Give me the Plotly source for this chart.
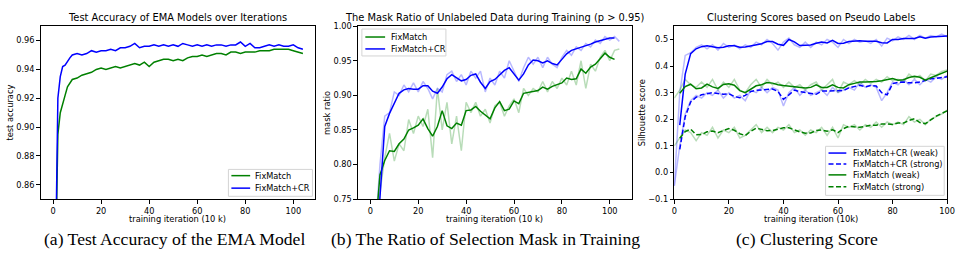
import plotly.graph_objects as go

W, H = 969, 259

# ---------------- Panel (a): test accuracy ----------------
a_x = [1, 2, 3, 4, 5, 6, 7, 8] + list(range(10, 105, 2))
a_cr = [0.80, 0.920, 0.935, 0.942, 0.943, 0.946, 0.948, 0.950,
        0.951, 0.950, 0.951, 0.953, 0.952, 0.953, 0.953, 0.954, 0.953, 0.955,
        0.955, 0.956, 0.958, 0.955, 0.956, 0.956, 0.957, 0.956, 0.957, 0.956,
        0.957, 0.956, 0.958, 0.957, 0.956, 0.957, 0.956, 0.957, 0.956, 0.957,
        0.957, 0.956, 0.957, 0.957, 0.959, 0.956, 0.958, 0.955, 0.955, 0.956,
        0.957, 0.956, 0.957, 0.956, 0.956, 0.957, 0.955, 0.954]
a_fm = [0.80, 0.895, 0.910, 0.917, 0.922, 0.928, 0.931, 0.933,
        0.934, 0.936, 0.937, 0.938, 0.940, 0.941, 0.940, 0.941, 0.942, 0.941,
        0.942, 0.943, 0.944, 0.943, 0.945, 0.942, 0.945, 0.946, 0.947, 0.947,
        0.946, 0.947, 0.946, 0.948, 0.949, 0.949, 0.950, 0.949, 0.950, 0.951,
        0.951, 0.950, 0.952, 0.952, 0.951, 0.952, 0.952, 0.952, 0.953, 0.953,
        0.953, 0.954, 0.954, 0.954, 0.954, 0.953, 0.952, 0.951]

# ---------------- Panel (b): mask ratio ----------------
b_raw_x = list(range(2, 105, 2))
b_cr_raw = [0.70, 0.80, 0.87, 0.875, 0.905, 0.90, 0.915, 0.905, 0.918, 0.905,
            0.92, 0.91, 0.895, 0.91, 0.905, 0.93, 0.935, 0.92, 0.93, 0.915,
            0.935, 0.925, 0.935, 0.905, 0.925, 0.915, 0.935, 0.925, 0.95, 0.935,
            0.92, 0.94, 0.955, 0.945, 0.955, 0.94, 0.955, 0.945, 0.94, 0.955,
            0.965, 0.958, 0.97, 0.965, 0.975, 0.97, 0.98, 0.975, 0.985, 0.98,
            0.985, 0.978]
b_fm_raw = [0.70, 0.76, 0.81, 0.845, 0.805, 0.83, 0.82, 0.865, 0.845, 0.87,
            0.855, 0.88, 0.81, 0.91, 0.85, 0.89, 0.83, 0.87, 0.82, 0.89,
            0.875, 0.89, 0.87, 0.88, 0.86, 0.885, 0.89, 0.87, 0.885, 0.895,
            0.875, 0.91, 0.90, 0.91, 0.905, 0.92, 0.905, 0.92, 0.91, 0.925,
            0.915, 0.935, 0.915, 0.95, 0.91, 0.945, 0.935, 0.955, 0.965, 0.95,
            0.965, 0.967]
b_sm_x = list(range(2, 103, 2))
b_cr_sm = [0.65, 0.76, 0.855, 0.874, 0.888, 0.903, 0.908, 0.910, 0.909, 0.909,
           0.914, 0.914, 0.906, 0.903, 0.912, 0.924, 0.930, 0.925, 0.921, 0.923,
           0.929, 0.931, 0.919, 0.910, 0.920, 0.923, 0.929, 0.936, 0.940, 0.931,
           0.922, 0.931, 0.944, 0.951, 0.950, 0.947, 0.950, 0.946, 0.944, 0.952,
           0.960, 0.965, 0.967, 0.969, 0.972, 0.974, 0.977, 0.979, 0.982, 0.983,
           0.983]
b_fm_sm = [0.70, 0.785, 0.806, 0.820, 0.819, 0.830, 0.837, 0.850, 0.853, 0.857,
           0.866, 0.852, 0.841, 0.855, 0.878, 0.856, 0.852, 0.860, 0.857, 0.878,
           0.879, 0.884, 0.877, 0.871, 0.866, 0.882, 0.891, 0.878, 0.880, 0.892,
           0.888, 0.903, 0.904, 0.905, 0.907, 0.912, 0.909, 0.913, 0.916, 0.918,
           0.925, 0.923, 0.924, 0.938, 0.932, 0.941, 0.945, 0.953, 0.961, 0.955,
           0.952]

# ---------------- Panel (c): silhouette score ----------------
c_raw_x = list(range(0, 101, 2))
c_crw_raw = [-0.05, 0.30, 0.44, 0.45, 0.47, 0.48, 0.465, 0.48, 0.46, 0.485,
             0.47, 0.48, 0.465, 0.48, 0.47, 0.49, 0.48, 0.50, 0.485, 0.46,
             0.49, 0.505, 0.48, 0.47, 0.49, 0.47, 0.49, 0.48, 0.50, 0.49,
             0.47, 0.50, 0.485, 0.50, 0.49, 0.495, 0.485, 0.50, 0.475, 0.505,
             0.495, 0.51, 0.50, 0.515, 0.50, 0.515, 0.505, 0.515, 0.51, 0.52,
             0.51]
c_crs_raw = [-0.05, 0.10, 0.22, 0.27, 0.29, 0.28, 0.30, 0.29, 0.31, 0.28,
             0.30, 0.28, 0.29, 0.27, 0.31, 0.30, 0.32, 0.30, 0.32, 0.31,
             0.25, 0.30, 0.32, 0.29, 0.31, 0.29, 0.30, 0.31, 0.29, 0.32,
             0.30, 0.31, 0.32, 0.31, 0.34, 0.32, 0.33, 0.32, 0.27, 0.30,
             0.34, 0.33, 0.35, 0.33, 0.35, 0.33, 0.35, 0.34, 0.36, 0.35,
             0.365]
c_fmw_raw = [0.28, 0.31, 0.35, 0.33, 0.32, 0.34, 0.32, 0.35, 0.31, 0.34,
             0.32, 0.35, 0.31, 0.30, 0.33, 0.35, 0.32, 0.35, 0.33, 0.34,
             0.32, 0.34, 0.32, 0.33, 0.31, 0.33, 0.34, 0.31, 0.33, 0.35,
             0.30, 0.34, 0.33, 0.345, 0.33, 0.35, 0.335, 0.35, 0.34, 0.36,
             0.345, 0.35, 0.34, 0.37, 0.355, 0.365, 0.345, 0.37, 0.365, 0.38,
             0.385]
c_fms_raw = [0.10, 0.13, 0.16, 0.15, 0.12, 0.15, 0.14, 0.17, 0.13, 0.16,
             0.15, 0.17, 0.13, 0.14, 0.16, 0.18, 0.15, 0.17, 0.15, 0.17,
             0.16, 0.18, 0.15, 0.16, 0.14, 0.16, 0.15, 0.17, 0.14, 0.17,
             0.13, 0.18, 0.17, 0.18, 0.16, 0.18, 0.17, 0.19, 0.17, 0.19,
             0.18, 0.19, 0.18, 0.21, 0.19, 0.20, 0.18, 0.20, 0.21, 0.22,
             0.235]
c_sm_x = list(range(2, 101, 2))
c_crw_sm = [0.178, 0.37, 0.447, 0.465, 0.473, 0.476, 0.473, 0.469, 0.471, 0.476,
            0.476, 0.471, 0.472, 0.476, 0.480, 0.484, 0.492, 0.492, 0.482, 0.478,
            0.500, 0.491, 0.477, 0.478, 0.479, 0.486, 0.490, 0.487, 0.497, 0.485,
            0.486, 0.492, 0.493, 0.495, 0.493, 0.494, 0.493, 0.488, 0.487, 0.500,
            0.500, 0.504, 0.503, 0.504, 0.510, 0.505, 0.509, 0.511, 0.512, 0.513]
c_crs_sm = [0.087, 0.21, 0.265, 0.283, 0.292, 0.297, 0.300, 0.297, 0.294, 0.296,
            0.286, 0.281, 0.290, 0.304, 0.309, 0.310, 0.313, 0.314, 0.305, 0.275,
            0.292, 0.310, 0.304, 0.300, 0.298, 0.294, 0.306, 0.306, 0.308, 0.308,
            0.308, 0.318, 0.323, 0.328, 0.322, 0.327, 0.325, 0.300, 0.292, 0.334,
            0.339, 0.340, 0.337, 0.337, 0.340, 0.347, 0.352, 0.354, 0.357, 0.360]
c_fmw_sm = [0.298, 0.323, 0.332, 0.315, 0.318, 0.332, 0.322, 0.316, 0.331, 0.334,
            0.328, 0.308, 0.300, 0.312, 0.326, 0.330, 0.338, 0.336, 0.330, 0.327,
            0.325, 0.322, 0.322, 0.318, 0.320, 0.330, 0.320, 0.320, 0.330, 0.320,
            0.318, 0.330, 0.335, 0.340, 0.340, 0.340, 0.342, 0.345, 0.350, 0.353,
            0.347, 0.349, 0.357, 0.362, 0.358, 0.347, 0.356, 0.365, 0.373, 0.381]
c_fms_sm = [0.129, 0.154, 0.163, 0.142, 0.143, 0.153, 0.156, 0.150, 0.158, 0.165,
            0.159, 0.146, 0.139, 0.155, 0.167, 0.161, 0.157, 0.158, 0.163, 0.168,
            0.168, 0.159, 0.153, 0.148, 0.149, 0.158, 0.160, 0.155, 0.161, 0.150,
            0.165, 0.174, 0.173, 0.170, 0.174, 0.178, 0.178, 0.182, 0.183, 0.181,
            0.186, 0.186, 0.196, 0.202, 0.188, 0.184, 0.198, 0.212, 0.222, 0.232]

# ---------------- text ----------------
titles = ["Test Accuracy of EMA Models over Iterations",
          "The Mask Ratio of Unlabeled Data during Training (p > 0.95)",
          "Clustering Scores based on Pseudo Labels"]
xlabels = ["training iteration (10 k)", "training iteration (10 k)", "training iteration (10k)"]
ylabels = ["test accuracy", "mask ratio", "Silhouette score"]
captions = ["(a) Test Accuracy of the EMA Model",
            "(b) The Ratio of Selection Mask in Training",
            "(c) Clustering Score"]
xticks = [0, 20, 40, 60, 80, 100]
a_yticks = [0.86, 0.88, 0.90, 0.92, 0.94, 0.96]
b_yticks = [0.75, 0.80, 0.85, 0.90, 0.95, 1.00]
c_yticks = [-0.1, 0.0, 0.1, 0.2, 0.3, 0.4, 0.5]
c_ytext = ["\u22120.1", "0.0", "0.1", "0.2", "0.3", "0.4", "0.5"]

BLUE = "#0000ff"
GREEN = "#008000"
BLUE_L = "rgba(0,0,255,0.28)"
GREEN_L = "rgba(0,128,0,0.28)"
FONT = "DejaVu Sans"

fig = go.Figure()

def line(x, y, color, xa, ya, width=1.5, dash="solid"):
    fig.add_trace(go.Scatter(x=x, y=y, mode="lines", xaxis=xa, yaxis=ya,
                             line=dict(color=color, width=width, dash=dash),
                             showlegend=False, hoverinfo="skip"))

# panel a
line(a_x, a_fm, GREEN, "x", "y")
line(a_x, a_cr, BLUE, "x", "y")
# panel b
line(b_raw_x, b_fm_raw, GREEN_L, "x2", "y2")
line(b_raw_x, b_cr_raw, BLUE_L, "x2", "y2")
line(b_sm_x, b_fm_sm, GREEN, "x2", "y2")
line(b_sm_x, b_cr_sm, BLUE, "x2", "y2")
# panel c
DASH = "5px,2.5px"
line(c_raw_x, c_crw_raw, BLUE_L, "x3", "y3")
line(c_raw_x, c_crs_raw, BLUE_L, "x3", "y3")
line(c_raw_x, c_fmw_raw, GREEN_L, "x3", "y3")
line(c_raw_x, c_fms_raw, GREEN_L, "x3", "y3")
line(c_sm_x, c_crw_sm, BLUE, "x3", "y3")
line(c_sm_x, c_crs_sm, BLUE, "x3", "y3", dash=DASH)
line(c_sm_x, c_fmw_sm, GREEN, "x3", "y3")
line(c_sm_x, c_fms_sm, GREEN, "x3", "y3", dash=DASH)

# layout geometry (pixels)
panels = [(38, 316), (359, 636), (679, 955)]
top, bot = 22, 202

def px(x):
    return x / W

def py(y):
    return 1 - y / H

axis_common = dict(showline=True, linecolor="black", linewidth=1, mirror=True,
                   ticks="outside", ticklen=3.5, tickwidth=0.8, tickcolor="black",
                   showgrid=False, zeroline=False,
                   tickfont=dict(family=FONT, size=8.2, color="black"))

xranges = [[-5.2, 109.2], [-5.2, 109.2], [0, 100]]
yranges = [[0.85, 0.97], [0.75, 1.00], [-0.1, 0.55]]
yt = [(a_yticks, ["%.2f" % v for v in a_yticks]),
      (b_yticks, ["%.2f" % v for v in b_yticks]),
      (c_yticks, c_ytext)]

layout = dict(width=W, height=H, autosize=False,
              margin=dict(l=0, r=0, t=0, b=0),
              paper_bgcolor="white", plot_bgcolor="white",
              showlegend=False)
for i, (l, r) in enumerate(panels):
    sfx = "" if i == 0 else str(i + 1)
    layout["xaxis" + sfx] = dict(axis_common, domain=[px(l), px(r)], range=xranges[i],
                                 tickvals=xticks, ticktext=[str(v) for v in xticks],
                                 anchor="y" + sfx)
    layout["yaxis" + sfx] = dict(axis_common, domain=[py(bot), py(top)], range=yranges[i],
                                 tickvals=yt[i][0], ticktext=yt[i][1],
                                 anchor="x" + sfx)
fig.update_layout(**layout)

annotations = []
title_x = [177, 497.5, 817]
ylab_x = [7, 327, 646]
cap_x = [173.5, 488, 813.5]
for i in range(3):
    annotations.append(dict(text=titles[i], x=px(title_x[i]), y=py(12.5), xref="paper", yref="paper",
                            showarrow=False, xanchor="center", yanchor="middle",
                            font=dict(family=FONT, size=9.9, color="black")))
    annotations.append(dict(text=xlabels[i], x=px((panels[i][0] + panels[i][1]) / 2), y=py(223),
                            xref="paper", yref="paper", showarrow=False,
                            xanchor="center", yanchor="middle",
                            font=dict(family=FONT, size=8.3, color="black")))
    annotations.append(dict(text=ylabels[i], x=px(ylab_x[i]), y=py(112), xref="paper", yref="paper",
                            showarrow=False, textangle=-90, xanchor="center", yanchor="middle",
                            font=dict(family=FONT, size=8.3, color="black")))
    annotations.append(dict(text=captions[i], x=px(cap_x[i]), y=py(243), xref="paper", yref="paper",
                            showarrow=False, xanchor="center", yanchor="middle",
                            font=dict(family="Liberation Serif", size=17.6, color="black")))

# legends (drawn as boxes with sample lines and labels)
shapes = []
legends = [
    ((228, 171, 313, 199), 231, 250, 253,
     [(177.5, "FixMatch", GREEN, "solid"), (190.5, "FixMatch+CR", BLUE, "solid")]),
    ((363, 25, 448, 53), 366.5, 386.5, 390.5,
     [(33.3, "FixMatch", GREEN, "solid"), (45.7, "FixMatch+CR", BLUE, "solid")]),
    ((832, 147, 952, 198), 835, 853, 858,
     [(154, "FixMatch+CR (weak)", BLUE, "solid"), (165.3, "FixMatch+CR (strong)", BLUE, DASH),
      (176.7, "FixMatch (weak)", GREEN, "solid"), (189, "FixMatch (strong)", GREEN, DASH)]),
]
for (bx0, by0, bx1, by1), lx0, lx1, tx, entries in legends:
    shapes.append(dict(type="rect", xref="paper", yref="paper",
                       x0=px(bx0), x1=px(bx1), y0=py(by1), y1=py(by0),
                       line=dict(color="#d4d4d4", width=1), fillcolor="rgba(255,255,255,0.85)",
                       layer="above"))
    for (ey, label, color, dash) in entries:
        shapes.append(dict(type="line", xref="paper", yref="paper",
                           x0=px(lx0), x1=px(lx1), y0=py(ey), y1=py(ey),
                           line=dict(color=color, width=1.5, dash=dash), layer="above"))
        annotations.append(dict(text=label, x=px(tx), y=py(ey), xref="paper", yref="paper",
                                showarrow=False, xanchor="left", yanchor="middle",
                                font=dict(family=FONT, size=8.2, color="black")))

fig.update_layout(annotations=annotations, shapes=shapes)
fig.write_html("out.html", config={"displayModeBar": False},
               post_script="document.documentElement.style.margin='0';"
                           "document.body.style.margin='0';"
                           "document.documentElement.style.overflow='hidden';"
                           "document.body.style.overflow='hidden';")
